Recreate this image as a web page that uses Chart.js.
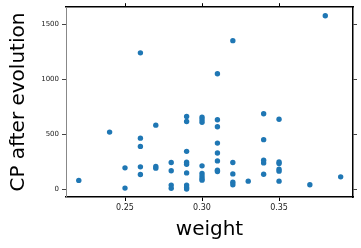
<!DOCTYPE html>
<html><head><meta charset="utf-8">
<script src="https://cdn.jsdelivr.net/npm/chart.js@4"></script>
<style>html,body{margin:0;padding:0;background:#fff}#w{width:361px;height:248px}</style>
</head><body><div id="w"><canvas id="c"></canvas></div>
<script>
const weight = [0.22,0.24,0.25,0.25,0.26,0.26,0.26,0.26,0.26,0.27,0.27,0.27,0.28,0.28,0.28,0.28,
  0.29,0.29,0.29,0.29,0.29,0.29,0.29,0.29,0.29,0.30,0.30,0.30,0.30,0.30,0.30,0.30,0.30,
  0.31,0.31,0.31,0.31,0.31,0.31,0.31,0.31,0.32,0.32,0.32,0.32,0.32,0.33,
  0.34,0.34,0.34,0.34,0.34,0.35,0.35,0.35,0.35,0.35,0.35,0.37,0.38,0.39];
const cpAfter = [79,518,193,9,1238,463,388,202,133,581,205,190,241,166,36,8,
  659,614,343,244,226,147,36,15,0,653,630,608,211,142,118,96,81,
  1048,630,566,418,328,256,172,160,1349,241,138,63,39,72,
  684,449,262,238,135,635,247,232,181,163,72,39,1575,111];
const xTicks = [0.25,0.30,0.35];
const yTicks = [0,500,1000,1500];
const xTitle = 'weight';
const yTitle = 'CP after evolution';

const pts = weight.map((w,i)=>({x:w,y:cpAfter[i]}));
const XMIN=0.2117, XMAX=0.398, YMIN=-72, YMAX=1653;
const F='DejaVu Sans';
function fixTicks(arr){return s=>{s.ticks=arr.map(v=>({value:v}));};}
new Chart(document.getElementById('c'),{
  type:'scatter',
  data:{datasets:[{data:pts,backgroundColor:'#1f77b4',borderWidth:0,pointRadius:2.7,pointHoverRadius:2.7}]},
  options:{
    animation:false,responsive:true,maintainAspectRatio:false,
    layout:{padding:0},
    plugins:{legend:{display:false},tooltip:{enabled:false}},
    scales:{
      x:{type:'linear',position:'bottom',min:XMIN,max:XMAX,
        afterBuildTicks:fixTicks(xTicks),
        afterFit:s=>{s.height=51;},
        border:{color:'#000',width:1.5},
        grid:{drawOnChartArea:false,drawTicks:true,tickLength:4,tickColor:'#000',tickWidth:1},
        ticks:{font:{family:F,size:8},color:'#222',padding:2,maxRotation:0,callback:v=>v.toFixed(2)},
        title:{display:true,text:xTitle,font:{family:F,size:20},color:'#000',padding:{top:0,bottom:6}}
      },
      x2:{type:'linear',position:'top',min:XMIN,max:XMAX,
        afterBuildTicks:fixTicks(xTicks),
        afterFit:s=>{s.height=6;},
        border:{color:'#000',width:1.5},
        grid:{drawOnChartArea:false,drawTicks:true,tickLength:4,tickColor:'#000',tickWidth:1},
        ticks:{display:true,callback:()=>'',padding:0}
      },
      y:{type:'linear',position:'left',min:YMIN,max:YMAX,
        afterBuildTicks:fixTicks(yTicks),
        afterFit:s=>{s.width=66;},
        border:{color:'#888',width:1},
        grid:{drawOnChartArea:false,drawTicks:true,tickLength:4,tickColor:'#444',tickWidth:1},
        ticks:{font:{family:F,size:7},color:'#222',padding:3,callback:v=>String(v)},
        title:{display:true,text:yTitle,font:{family:F,size:20},color:'#000',padding:{top:7,bottom:0}}
      },
      y2:{type:'linear',position:'right',min:YMIN,max:YMAX,
        afterBuildTicks:fixTicks(yTicks),
        afterFit:s=>{s.width=8;},
        border:{color:'#000',width:1.5},
        grid:{drawOnChartArea:false,drawTicks:true,tickLength:4,tickColor:'#444',tickWidth:1},
        ticks:{display:true,callback:()=>'',padding:0}
      }
    }
  }
});
</script></body></html>
